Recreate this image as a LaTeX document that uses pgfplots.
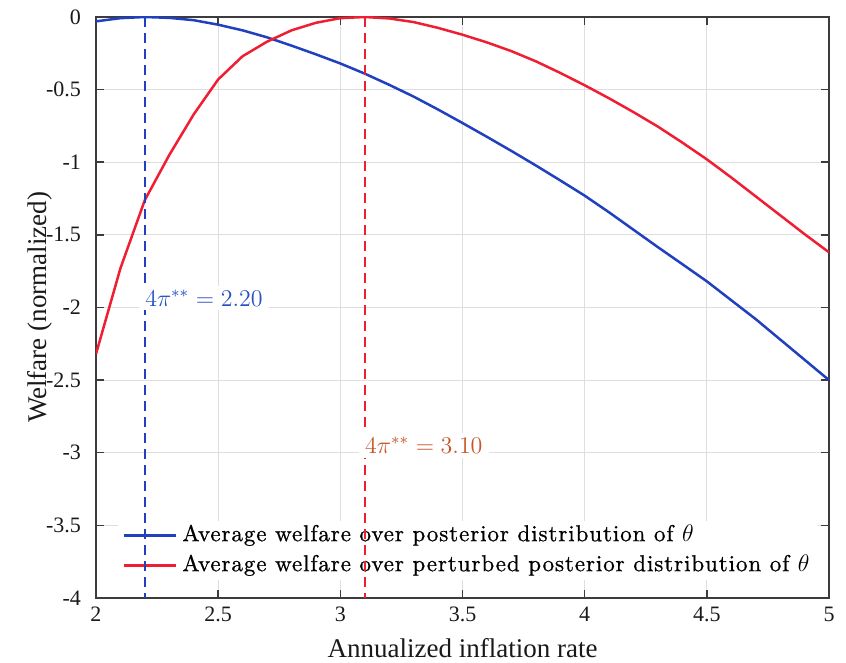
\documentclass[border=0pt]{standalone}
\usepackage[no-math]{fontspec}
\setmainfont{Liberation Serif}
\newfontfamily\legfont{lmroman10-regular.otf}[LetterSpace=4, FakeBold=0.8]
\usepackage{pgfplots}
\pgfplotsset{compat=1.18}
\definecolor{cblue}{RGB}{32,64,192}
\definecolor{cred}{RGB}{240,30,50}
\definecolor{cbluetxt}{RGB}{40,80,200}
\definecolor{credtxt}{RGB}{200,85,40}
\definecolor{gridc}{RGB}{222,222,222}
\definecolor{axc}{RGB}{60,60,60}
\pgfplotstableread{
x y
2.0 -0.030
2.1 -0.008
2.2 0.000
2.3 -0.006
2.4 -0.022
2.5 -0.053
2.6 -0.092
2.7 -0.140
2.8 -0.197
2.9 -0.257
3.0 -0.320
3.1 -0.390
3.2 -0.467
3.3 -0.548
3.4 -0.637
3.5 -0.730
3.6 -0.825
3.7 -0.922
3.8 -1.022
3.9 -1.125
4.0 -1.230
4.1 -1.345
4.2 -1.465
4.3 -1.585
4.4 -1.702
4.5 -1.820
4.6 -1.950
4.7 -2.080
4.8 -2.220
4.9 -2.360
5.0 -2.500
}\bluetab
\pgfplotstableread{
x y
2.0 -2.320
2.1 -1.730
2.2 -1.260
2.3 -0.950
2.4 -0.670
2.5 -0.430
2.6 -0.270
2.7 -0.170
2.8 -0.092
2.9 -0.040
3.0 -0.008
3.1 0.000
3.2 -0.010
3.3 -0.035
3.4 -0.075
3.5 -0.122
3.6 -0.175
3.7 -0.235
3.8 -0.305
3.9 -0.385
4.0 -0.470
4.1 -0.560
4.2 -0.655
4.3 -0.755
4.4 -0.865
4.5 -0.980
4.6 -1.105
4.7 -1.235
4.8 -1.365
4.9 -1.495
5.0 -1.620
}\redtab
\begin{document}
\begin{tikzpicture}
\path[use as bounding box] (-48pt,-32.5pt) rectangle (375pt,299pt);
\begin{axis}[
  at={(0,0)}, anchor=south west,
  scale only axis, width=366.5pt, height=290.5pt,
  xmin=2, xmax=5, ymin=-4, ymax=0,
  xtick={2,2.5,...,5}, ytick={-4,-3.5,...,0},
  grid=major, major grid style={gridc, line width=0.5pt},
  axis line style={axc, line width=0.75pt},
  tick style={axc, line width=0.75pt},
  tick align=inside, major tick length=4pt,
  xtick pos=both, ytick pos=both,
  /pgf/number format/assume math mode=true,
  ticklabel style={font=\fontsize{11}{13}\selectfont, text=black!90},
  yticklabel style={xshift=-4pt},
  xticklabel style={yshift=-1pt},
  xlabel={Annualized inflation rate}, ylabel={Welfare (normalized)},
  label style={font=\fontsize{13.5}{16}\selectfont, text=black!90},
  xlabel style={at={(rel axis cs:0.5,0)}, anchor=center, yshift=-25pt},
  ylabel style={at={(rel axis cs:0,0.5)}, anchor=center, yshift=28pt},
  legend style={at={(rel axis cs:0.030,0.030)}, anchor=south west, draw=none, fill=white,
     font=\legfont\fontsize{11.5}{13}\selectfont, inner xsep=2pt, inner ysep=2pt,
     row sep=4.5pt,
     nodes={inner xsep=2.5pt, inner ysep=0pt, text height=8pt, text depth=2.5pt}},
  legend cell align=left,
  legend image code/.code={\draw[#1, line width=1.5pt] (0pt,0pt) -- (26pt,0pt);},
]
\addplot[cblue, line width=1.25pt] table[x=x,y=y] {\bluetab};
\addlegendentry{Average welfare over posterior distribution of $\theta$}
\addplot[cred, line width=1.25pt] table[x=x,y=y] {\redtab};
\addlegendentry{Average welfare over perturbed posterior distribution of $\theta$}
\end{axis}
\begin{axis}[
  at={(0,0)}, anchor=south west,
  scale only axis, width=366.5pt, height=290.5pt,
  xmin=2, xmax=5, ymin=-4, ymax=0, hide axis,
]
\addplot[cblue, line width=1pt, dash pattern=on 5pt off 3pt] coordinates {(2.2,0) (2.2,-4)};
\addplot[cred, line width=1pt, dash pattern=on 5pt off 3pt] coordinates {(3.1,0) (3.1,-4)};
\node[fill=white, text=cbluetxt, anchor=west, inner xsep=3pt, inner ysep=2pt, xshift=-3pt, font=\fontsize{12}{14}\selectfont] at (axis cs:2.2,-1.936) {$4\pi^{**}=2.20$\hspace{3pt}};
\node[fill=white, text=credtxt, anchor=west, inner xsep=3pt, inner ysep=2pt, xshift=-3pt, font=\fontsize{12}{14}\selectfont] at (axis cs:3.1,-2.95) {$4\pi^{**}=3.10$\hspace{3pt}};
\end{axis}
\end{tikzpicture}
\end{document}
